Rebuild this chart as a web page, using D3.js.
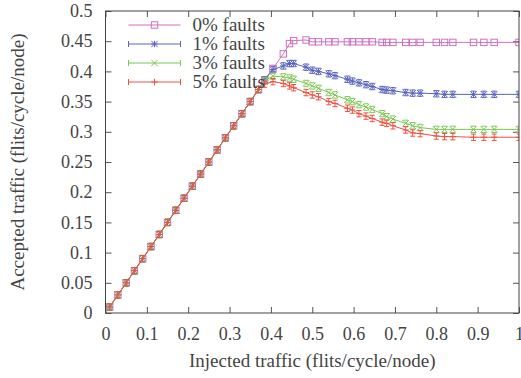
<!DOCTYPE html>
<html>
<head>
<meta charset="utf-8">
<script src="https://cdn.jsdelivr.net/npm/d3@7"></script>
<style>
  body { margin: 0; background: #fff; }
</style>
</head>
<body>
<svg id="chart" width="521" height="378"></svg>
<script>
// injected traffic (x) shared by all runs
const injected = [0.01, 0.03, 0.05, 0.07, 0.09, 0.11, 0.13, 0.15, 0.17, 0.19,
  0.21, 0.23, 0.25, 0.27, 0.29, 0.31, 0.33, 0.35, 0.37,
  0.385, 0.405, 0.43, 0.445, 0.455,
  0.485, 0.50, 0.515, 0.54, 0.555, 0.585, 0.597, 0.613, 0.63, 0.645,
  0.669, 0.68, 0.695, 0.726, 0.743, 0.761, 0.80, 0.82, 0.84, 0.89, 0.915, 0.94, 1.0];

const faults0 = [0.01, 0.03, 0.05, 0.07, 0.09, 0.11, 0.13, 0.15, 0.17, 0.19,
  0.21, 0.23, 0.25, 0.27, 0.29, 0.31, 0.33, 0.35, 0.37,
  0.386, 0.405, 0.429, 0.446, 0.451,
  0.452, 0.449, 0.449, 0.449, 0.449, 0.449, 0.449, 0.449, 0.449, 0.449,
  0.448, 0.448, 0.448, 0.448, 0.448, 0.448, 0.448, 0.448, 0.448, 0.448, 0.448, 0.448, 0.448];

const faults1 = [0.01, 0.03, 0.05, 0.07, 0.09, 0.11, 0.13, 0.15, 0.17, 0.19,
  0.21, 0.23, 0.25, 0.27, 0.29, 0.31, 0.33, 0.35, 0.37,
  0.386, 0.403, 0.409, 0.413, 0.413,
  0.407, 0.402, 0.400, 0.396, 0.393, 0.387, 0.384, 0.381, 0.378, 0.375,
  0.370, 0.369, 0.368, 0.365, 0.364, 0.364, 0.363, 0.362, 0.362, 0.362, 0.362, 0.362, 0.362];

const faults3 = [0.01, 0.03, 0.05, 0.07, 0.09, 0.11, 0.13, 0.15, 0.17, 0.19,
  0.21, 0.23, 0.25, 0.27, 0.29, 0.31, 0.33, 0.35, 0.37,
  0.385, 0.392, 0.391, 0.389, 0.387,
  0.380, 0.376, 0.372, 0.365, 0.361, 0.353, 0.350, 0.345, 0.341, 0.337,
  0.330, 0.325, 0.321, 0.314, 0.310, 0.307, 0.304, 0.304, 0.304, 0.304, 0.304, 0.304, 0.304];

const faults5 = [0.01, 0.03, 0.05, 0.07, 0.09, 0.11, 0.13, 0.15, 0.17, 0.19,
  0.21, 0.23, 0.25, 0.27, 0.29, 0.31, 0.33, 0.35, 0.37,
  0.379, 0.383, 0.380, 0.376, 0.373,
  0.365, 0.361, 0.358, 0.350, 0.347, 0.339, 0.336, 0.330, 0.326, 0.322,
  0.316, 0.314, 0.310, 0.303, 0.298, 0.297, 0.293, 0.292, 0.292, 0.291, 0.291, 0.291, 0.291];

const seriesNames = ["0% faults", "1% faults", "3% faults", "5% faults"];
const xTicks = [0, 0.1, 0.2, 0.3, 0.4, 0.5, 0.6, 0.7, 0.8, 0.9, 1];
const yTicks = [0, 0.05, 0.1, 0.15, 0.2, 0.25, 0.3, 0.35, 0.4, 0.45, 0.5];

const dim = {
  width: 521, height: 378,
  marginTop: 11, marginRight: 2, marginBottom: 65, marginLeft: 105.5
}
dim.boundedWidth = dim.width - dim.marginLeft - dim.marginRight
dim.boundedHeight = dim.height - dim.marginTop - dim.marginBottom

const FONT = '"Liberation Serif"'
const FSIZE = '19px'
const colors = ["#d070c0", "#5a64be", "#78c850", "#f05040"]
const markers = ["square", "star", "cross", "plus"]
const allSeries = [faults0, faults1, faults3, faults5]

const svg = d3.select('#chart')
const bounds = svg.append('g')
  .attr('transform', `translate(${dim.marginLeft},${dim.marginTop})`)

const xScale = d3.scaleLinear().domain([0, 1]).range([0, dim.boundedWidth])
const yScale = d3.scaleLinear().domain([0, 0.5]).range([dim.boundedHeight, 0])

// ticks, inward on all four sides
const tickLen = 6
const fmt = d => String(+d.toFixed(2))
const axisStyle = g => {
  g.attr('font-family', null).attr('font-size', null)
  g.select('.domain').remove()
  g.selectAll('.tick line').attr('stroke', '#555')
  g.selectAll('.tick text').attr('fill', '#444')
    .style('font-family', FONT).style('font-size', '18px')
}
bounds.append('g').attr('transform', `translate(0,${dim.boundedHeight})`)
  .call(d3.axisBottom(xScale).tickValues(xTicks).tickSize(-tickLen).tickPadding(14).tickFormat(fmt))
  .call(axisStyle)
bounds.append('g')
  .call(d3.axisTop(xScale).tickValues(xTicks).tickSize(-tickLen).tickFormat(''))
  .call(axisStyle)
bounds.append('g')
  .call(d3.axisLeft(yScale).tickValues(yTicks).tickSize(-tickLen).tickPadding(13).tickFormat(fmt))
  .call(axisStyle)
bounds.append('g').attr('transform', `translate(${dim.boundedWidth},0)`)
  .call(d3.axisRight(yScale).tickValues(yTicks).tickSize(-tickLen).tickFormat(''))
  .call(axisStyle)

// clip for data
svg.append('defs').append('clipPath').attr('id', 'clip')
  .append('rect').attr('x', -1).attr('y', -6).attr('width', dim.boundedWidth + 1).attr('height', dim.boundedHeight + 7)

function drawMarker(g, type, cx, cy, color, caps) {
  const s = 3.2
  const add = (x1, y1, x2, y2) => g.append('line')
    .attr('x1', cx + x1).attr('y1', cy + y1).attr('x2', cx + x2).attr('y2', cy + y2)
    .attr('stroke', color).attr('stroke-width', 1)
  if (type == "square") {
    g.append('rect').attr('x', cx - s).attr('y', cy - s).attr('width', 2 * s).attr('height', 2 * s)
      .attr('fill', 'none').attr('stroke', color).attr('stroke-width', 1)
  }
  if (type == "star" || type == "cross") { add(-s, -s, s, s); add(-s, s, s, -s) }
  if (type == "star" || type == "plus") { add(-s, 0, s, 0); add(0, -s, 0, s) }
  if (caps) { add(-2.5, -s, 2.5, -s); add(-2.5, s, 2.5, s) }
}

const plot = bounds.append('g').attr('clip-path', 'url(#clip)')
const line = d3.line().x(d => xScale(d[0])).y(d => yScale(d[1]))

allSeries.forEach((vals, si) => {
  const pts = injected.map((x, i) => [x, vals[i]])
  plot.append('path').datum(pts)
    .attr('d', line).attr('fill', 'none')
    .attr('stroke', colors[si]).attr('stroke-width', 1)
  const mg = plot.append('g')
  pts.forEach(p => drawMarker(mg, markers[si], xScale(p[0]), yScale(p[1]), colors[si], si > 0))
})

// frame
bounds.append('rect').attr('width', dim.boundedWidth).attr('height', dim.boundedHeight)
  .attr('fill', 'none').attr('stroke', '#444').attr('stroke-width', 1)

// legend
const legend = bounds.append('g').attr('transform', 'translate(23,14)')
seriesNames.forEach((name, i) => {
  const row = legend.append('g').attr('transform', `translate(0,${i * 19})`)
  row.append('line').attr('x1', 0).attr('x2', 52).attr('y1', 0).attr('y2', 0)
    .attr('stroke', colors[i]).attr('stroke-width', 1)
  if (i > 0) {
    row.append('line').attr('x1', 0).attr('x2', 0).attr('y1', -3).attr('y2', 3).attr('stroke', colors[i])
    row.append('line').attr('x1', 52).attr('x2', 52).attr('y1', -3).attr('y2', 3).attr('stroke', colors[i])
  }
  drawMarker(row, markers[i], 26, 0, colors[i], false)
  row.append('text').attr('x', 64).attr('y', 0).attr('dy', '0.33em')
    .attr('fill', '#444').style('font-family', FONT).style('font-size', FSIZE).text(name)
})

// axis titles
svg.append('text')
  .attr('x', dim.marginLeft + dim.boundedWidth / 2).attr('y', 367)
  .attr('text-anchor', 'middle').attr('fill', '#444')
  .style('font-family', FONT).style('font-size', FSIZE)
  .text('Injected traffic (flits/cycle/node)')
svg.append('text')
  .attr('transform', `translate(24,${dim.marginTop + dim.boundedHeight / 2}) rotate(-90)`)
  .attr('text-anchor', 'middle').attr('fill', '#444')
  .style('font-family', FONT).style('font-size', FSIZE)
  .text('Accepted traffic (flits/cycle/node)')
</script>
</body>
</html>
